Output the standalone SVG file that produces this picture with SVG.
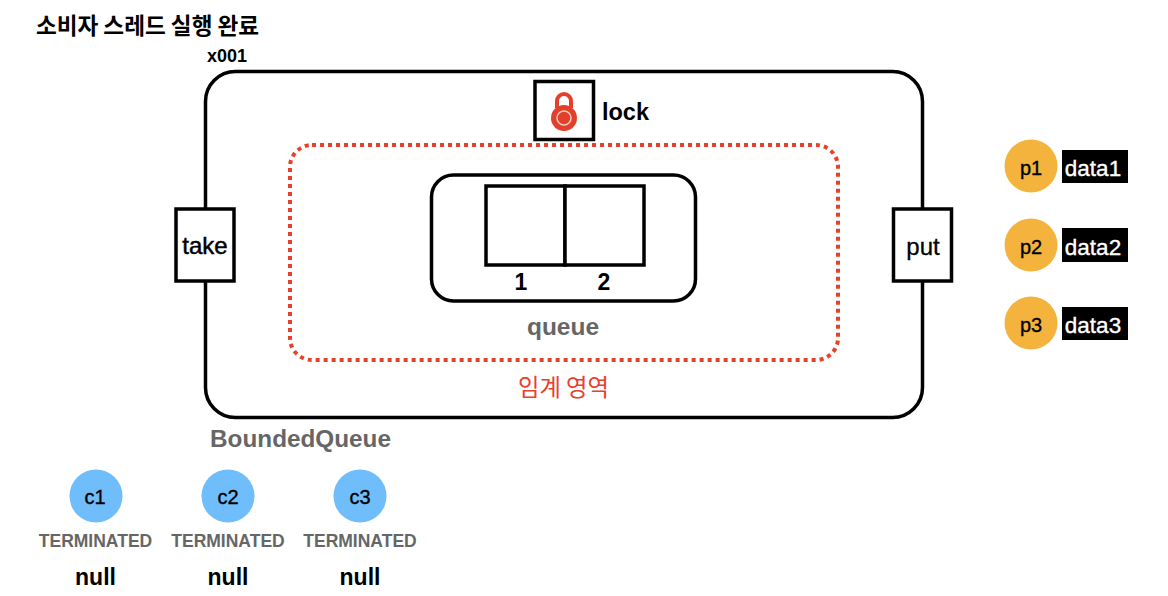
<svg xmlns="http://www.w3.org/2000/svg" width="1168" height="596" viewBox="0 0 1168 596">
<style>
text{font-family:"Liberation Sans","Noto Sans CJK KR",sans-serif;text-anchor:middle;fill:#000}
.b{font-weight:700}
.box{fill:#fff;stroke:#000;stroke-width:3.5}
.g{fill:#666;font-weight:700}
.t{fill:#666;font-size:17.500px;font-weight:700}
.n{font-size:23px;font-weight:700}
.m{font-size:24px;stroke:#000;stroke-width:.5}
.c{fill:#6fbdfb}
.p{fill:#f3b33d}
.l{font-size:20px;stroke:#000;stroke-width:.35}
.d{fill:#fff;font-size:22.500px;stroke:#fff;stroke-width:.35}
</style>
<rect width="1168" height="596" fill="#fff"/>
<text id="title" class="b" x="147.500" y="34" font-size="22.600" style="font-family:'Noto Sans CJK KR',sans-serif">소비자 스레드 실행 완료</text>
<g id="bounded-queue">
<rect x="205.500" y="71.500" width="717" height="346" rx="30" fill="#fff" stroke="#000" stroke-width="3.500"/>
<text class="b" x="227" y="62" font-size="18">x001</text>
<text class="g" x="300.500" y="447" font-size="24.300">BoundedQueue</text>
</g>
<g id="critical-section">
<rect x="290" y="145" width="548" height="215" rx="22" fill="none" stroke="#e8402a" stroke-width="4" stroke-dasharray="4 4"/>
<text x="563.500" y="396" font-size="23.300" style="fill:#e8402a;font-family:'Noto Sans CJK KR',sans-serif">임계 영역</text>
</g>
<g id="lock">
<rect class="box" x="535" y="81.500" width="58.500" height="58"/>
<path d="M557 108v-7a7 7 0 0 1 14 0v7" fill="none" stroke="#e2402a" stroke-width="4"/>
<circle cx="564" cy="118" r="13" fill="#e2402a"/>
<circle cx="564" cy="118" r="7" fill="none" stroke="#f6c9bf" stroke-width="1.500"/>
<text class="b" x="625.500" y="120" font-size="23.500">lock</text>
</g>
<g id="queue">
<rect x="431.500" y="175" width="264" height="126" rx="22" fill="#fff" stroke="#000" stroke-width="3.500"/>
<rect class="box" x="486" y="186" width="79" height="79"/>
<rect class="box" x="565" y="186" width="79" height="79"/>
<text class="n" x="521" y="290">1</text>
<text class="n" x="604" y="290">2</text>
<text class="g" x="563" y="335" font-size="24.500">queue</text>
</g>
<g id="take">
<rect class="box" x="176" y="209" width="58" height="72"/>
<text x="205" y="254" class="m">take</text>
</g>
<g id="put">
<rect class="box" x="893.500" y="209" width="58" height="72"/>
<text x="923" y="255" class="m" style="stroke-width:.3">put</text>
</g>
<g id="p1"><circle class="p" cx="1031" cy="166" r="26.500"/><text class="l" x="1031" y="175">p1</text><rect x="1062" y="150" width="66" height="33"/><text class="d" x="1093" y="176">data1</text></g>
<g id="p2"><circle class="p" cx="1031" cy="245" r="26.500"/><text class="l" x="1031" y="254">p2</text><rect x="1062" y="228" width="66" height="34"/><text class="d" x="1093" y="255">data2</text></g>
<g id="p3"><circle class="p" cx="1031" cy="323" r="26.500"/><text class="l" x="1031" y="332">p3</text><rect x="1062" y="307" width="66" height="33"/><text class="d" x="1093" y="333">data3</text></g>
<g id="c1"><circle class="c" cx="96" cy="496" r="26.500"/><text class="l" x="95" y="504">c1</text><text class="t" x="95.500" y="547">TERMINATED</text><text class="n" x="95.500" y="585">null</text></g>
<g id="c2"><circle class="c" cx="228" cy="496" r="26.500"/><text class="l" x="228" y="504">c2</text><text class="t" x="228" y="547">TERMINATED</text><text class="n" x="228" y="585">null</text></g>
<g id="c3"><circle class="c" cx="360" cy="496" r="26.500"/><text class="l" x="360" y="504">c3</text><text class="t" x="360" y="547">TERMINATED</text><text class="n" x="360" y="585">null</text></g>
<g id="connectors"></g>
</svg>
